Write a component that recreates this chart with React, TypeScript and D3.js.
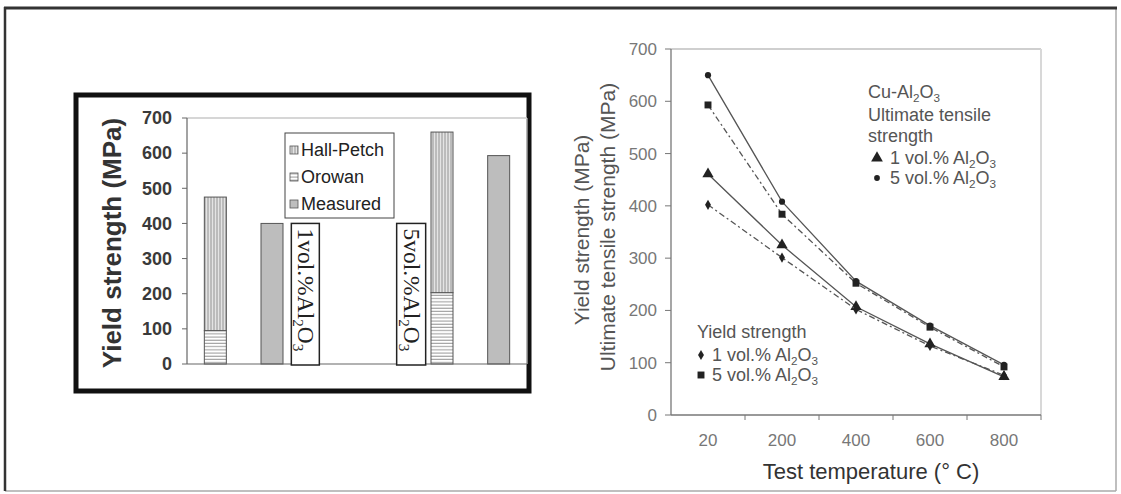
import React from 'react';
import * as d3 from 'd3';

// left panel: predicted (stacked) and measured yield strength, MPa
const barCats = ['1p', '1m', 'gapA', 'gapB', '5p', '5m'];
const orowanVals = [95, 0, 0, 0, 203, 0];
const hallPetchVals = [380, 0, 0, 0, 457, 0];
const measuredVals = [0, 400, 0, 0, 0, 593];
const leftTicks = [0, 100, 200, 300, 400, 500, 600, 700];
const leftLegend = ['Hall-Petch', 'Orowan', 'Measured'];

// right panel: strength vs test temperature
const temps = ['20', '200', '400', '600', '800'];
const utsOne = [461, 325, 207, 136, 73];
const utsFive = [650, 408, 256, 171, 96];
const ysOne = [402, 301, 202, 132, 76];
const ysFive = [593, 384, 252, 168, 92];
const rightTicks = [0, 100, 200, 300, 400, 500, 600, 700];

const SANS = 'Liberation Sans, Arial, sans-serif';
const SERIF = 'Liberation Serif, Times New Roman, serif';

// Al2O3 with subscripts
const Alumina = ({ size, pre = '' }: { size: number; pre?: string }) => {
  const sub = size * 0.65;
  const dy = size * 0.22;
  return (
    <>
      <tspan>{pre}Al</tspan>
      <tspan fontSize={sub} dy={dy}>2</tspan>
      <tspan dy={-dy}>O</tspan>
      <tspan fontSize={sub} dy={dy}>3</tspan>
    </>
  );
};

const App = () => {
  const W = 1121;
  const H = 494;

  // ---- left panel scales
  const yL = d3.scaleLinear().domain([0, 700]).range([364, 118]);
  const xL = d3.scaleBand().domain(barCats).range([187, 527]);
  const barW = 22;
  const barX = (c: string) => (xL(c) as number) + (xL.bandwidth() - barW) / 2;

  // ---- right panel scales
  const yR = d3.scaleLinear().domain([0, 700]).range([415, 49]);
  const xR = d3.scaleBand().domain(temps).range([671, 1041]);
  const cx = (t: string) => (xR(t) as number) + xR.bandwidth() / 2;
  const line = d3
    .line<number>()
    .x((_, i) => cx(temps[i]))
    .y((d) => yR(d));

  const series = [
    { vals: utsFive, sym: d3.symbolCircle, size: 30, dash: 'none' },
    { vals: ysFive, sym: d3.symbolSquare, size: 48, dash: '6 3 2 3' },
    { vals: utsOne, sym: d3.symbolTriangle, size: 55, dash: 'none' },
    { vals: ysOne, sym: d3.symbolDiamond, size: 30, dash: '6 3 2 3' },
  ];
  const sym = (s: d3.SymbolType, size: number) => d3.symbol().type(s).size(size)() as string;

  const box1X = (xL('gapA') as number) - 9;
  const box2X = (xL('5p') as number) - 17;

  return (
    <svg
      width={W}
      height={H}
      style={{ position: 'absolute', left: 0, top: 0, background: '#fff' }}
      fontFamily={SANS}
    >
      <defs>
        <pattern id="vstripe" width="3" height="4" patternUnits="userSpaceOnUse">
          <rect width="3" height="4" fill="#e4e4e4" />
          <line x1="1" y1="0" x2="1" y2="4" stroke="#8a8a8a" strokeWidth="0.9" />
        </pattern>
        <pattern id="hstripe" width="4" height="3.2" patternUnits="userSpaceOnUse">
          <rect width="4" height="3.2" fill="#fff" />
          <line x1="0" y1="1" x2="4" y2="1" stroke="#8a8a8a" strokeWidth="0.9" />
        </pattern>
      </defs>

      {/* outer frame */}
      <line x1={5} y1={491} x2={1116} y2={491} stroke="#aaa" strokeWidth={1.5} />
      <line x1={1116} y1={8} x2={1116} y2={491} stroke="#aaa" strokeWidth={1.5} />
      <line x1={4} y1={8} x2={1117} y2={8} stroke="#333" strokeWidth={3} />
      <line x1={5} y1={7} x2={5} y2={491} stroke="#333" strokeWidth={2.5} />

      {/* ================= left panel ================= */}
      <rect x={76} y={95} width={453} height={296} fill="none" stroke="#111" strokeWidth={5} />
      <line x1={187} y1={yL(700)} x2={527} y2={yL(700)} stroke="#c8c8c8" strokeWidth={1.5} />
      <line x1={527} y1={yL(700)} x2={527} y2={yL(0)} stroke="#e4e4e4" strokeWidth={1} />

      {/* bars */}
      {barCats.map((c, i) => (
        <g key={c}>
          {orowanVals[i] > 0 && (
            <rect
              x={barX(c)}
              y={yL(orowanVals[i])}
              width={barW}
              height={yL(0) - yL(orowanVals[i])}
              fill="url(#hstripe)"
              stroke="#555"
              strokeWidth={1}
            />
          )}
          {hallPetchVals[i] > 0 && (
            <rect
              x={barX(c)}
              y={yL(orowanVals[i] + hallPetchVals[i])}
              width={barW}
              height={yL(orowanVals[i]) - yL(orowanVals[i] + hallPetchVals[i])}
              fill="url(#vstripe)"
              stroke="#555"
              strokeWidth={1}
            />
          )}
          {measuredVals[i] > 0 && (
            <rect
              x={barX(c)}
              y={yL(measuredVals[i])}
              width={barW}
              height={yL(0) - yL(measuredVals[i])}
              fill="#bdbdbd"
              stroke="#555"
              strokeWidth={1}
            />
          )}
        </g>
      ))}

      {/* axes */}
      <line x1={187} y1={yL(0)} x2={527} y2={yL(0)} stroke="#666" strokeWidth={1.2} />
      <line x1={187} y1={yL(0)} x2={187} y2={yL(700)} stroke="#666" strokeWidth={1.2} />
      {leftTicks.map((t) => (
        <g key={t}>
          <line x1={182} y1={yL(t)} x2={187} y2={yL(t)} stroke="#666" />
          <text
            x={172}
            y={yL(t)}
            dy="0.35em"
            textAnchor="end"
            fontSize={18}
            fontWeight="bold"
            fill="#3a3a3a"
          >
            {t}
          </text>
        </g>
      ))}
      <text
        transform={`translate(121,${(yL(0) + yL(700)) / 2 + 2}) rotate(-90)`}
        textAnchor="middle"
        fontSize={26}
        fontWeight="bold"
        fill="#333"
      >
        Yield strength (MPa)
      </text>

      {/* legend */}
      <rect x={285} y={133} width={109} height={85} fill="#fff" stroke="#444" strokeWidth={1} />
      {leftLegend.map((name, i) => (
        <g key={name}>
          <rect
            x={290}
            y={146 + i * 27}
            width={8}
            height={8}
            fill={i === 0 ? 'url(#vstripe)' : i === 1 ? 'url(#hstripe)' : '#bdbdbd'}
            stroke="#555"
            strokeWidth={0.8}
          />
          <text x={301} y={150 + i * 27} dy="0.35em" fontSize={18} fill="#222">
            {name}
          </text>
        </g>
      ))}

      {/* composition labels */}
      {[
        { x: box1X, w: 28, pre: '1vol.%' },
        { x: box2X, w: 29, pre: '5vol.%' },
      ].map((b) => (
        <g key={b.pre}>
          <rect
            x={b.x}
            y={yL(400)}
            width={b.w}
            height={yL(0) - yL(400) + 1}
            fill="#fff"
            stroke="#222"
            strokeWidth={1.5}
          />
          <text
            transform={`translate(${b.x + b.w / 2 - 7},${yL(400) + 5}) rotate(90)`}
            fontFamily={SERIF}
            fontSize={23.5}
            fill="#222"
          >
            <Alumina size={23.5} pre={b.pre} />
          </text>
        </g>
      ))}

      {/* ================= right panel ================= */}
      <line x1={671} y1={yR(700)} x2={1041} y2={yR(700)} stroke="#cfcfcf" strokeWidth={2} />
      <line x1={1041} y1={yR(700)} x2={1041} y2={yR(0)} stroke="#d8d8d8" strokeWidth={2} />
      <line x1={671} y1={yR(0)} x2={1041} y2={yR(0)} stroke="#777" strokeWidth={1.3} />
      <line x1={671} y1={yR(0)} x2={671} y2={yR(700)} stroke="#777" strokeWidth={1.3} />
      {rightTicks.map((t) => (
        <g key={t}>
          <line x1={665} y1={yR(t)} x2={671} y2={yR(t)} stroke="#777" />
          <text x={657} y={yR(t)} dy="0.35em" textAnchor="end" fontSize={17} fill="#777">
            {t}
          </text>
        </g>
      ))}
      {temps.map((t) => (
        <g key={t}>
          <line
            x1={(xR(t) as number) + xR.bandwidth()}
            y1={yR(0)}
            x2={(xR(t) as number) + xR.bandwidth()}
            y2={yR(0) + 5}
            stroke="#777"
          />
          <text x={cx(t)} y={446} textAnchor="middle" fontSize={17} fill="#777">
            {t}
          </text>
        </g>
      ))}
      <text x={871} y={479} textAnchor="middle" fontSize={22} fill="#333">
        Test temperature (° C)
      </text>
      <text
        transform={`translate(589,230) rotate(-90)`}
        textAnchor="middle"
        fontSize={21}
        fill="#555"
      >
        Yield strength (MPa)
      </text>
      <text
        transform={`translate(615,227) rotate(-90)`}
        textAnchor="middle"
        fontSize={21}
        fill="#555"
      >
        Ultimate tensile strength (MPa)
      </text>

      {/* series */}
      {series.map((s, k) => (
        <g key={k}>
          <path
            d={line(s.vals) as string}
            fill="none"
            stroke="#555"
            strokeWidth={1.3}
            strokeDasharray={s.dash}
          />
          {s.vals.map((v, i) => (
            <path
              key={i}
              d={sym(s.sym, s.size)}
              transform={`translate(${cx(temps[i])},${yR(v)})`}
              fill="#222"
            />
          ))}
        </g>
      ))}

      {/* upper legend */}
      <g fontSize={18} fill="#555">
        <text x={868} y={92} dy="0.35em">
          Cu-<Alumina size={18} />
        </text>
        <text x={868} y={115} dy="0.35em">
          Ultimate tensile
        </text>
        <text x={868} y={136} dy="0.35em">
          strength
        </text>
        <path d={sym(d3.symbolTriangle, 60)} transform="translate(877,158)" fill="#222" />
        <text x={890} y={158} dy="0.35em">
          1 vol.% <Alumina size={18} />
        </text>
        <path d={sym(d3.symbolCircle, 26)} transform="translate(877,178)" fill="#222" />
        <text x={890} y={178} dy="0.35em">
          5 vol.% <Alumina size={18} />
        </text>
      </g>

      {/* lower legend */}
      <g fontSize={18} fill="#555">
        <text x={697} y={332} dy="0.35em">
          Yield strength
        </text>
        <path d={sym(d3.symbolDiamond, 30)} transform="translate(701,355)" fill="#222" />
        <text x={712} y={355} dy="0.35em">
          1 vol.% <Alumina size={18} />
        </text>
        <path d={sym(d3.symbolSquare, 48)} transform="translate(701,375)" fill="#222" />
        <text x={712} y={375} dy="0.35em">
          5 vol.% <Alumina size={18} />
        </text>
      </g>
    </svg>
  );
};

export default App;
